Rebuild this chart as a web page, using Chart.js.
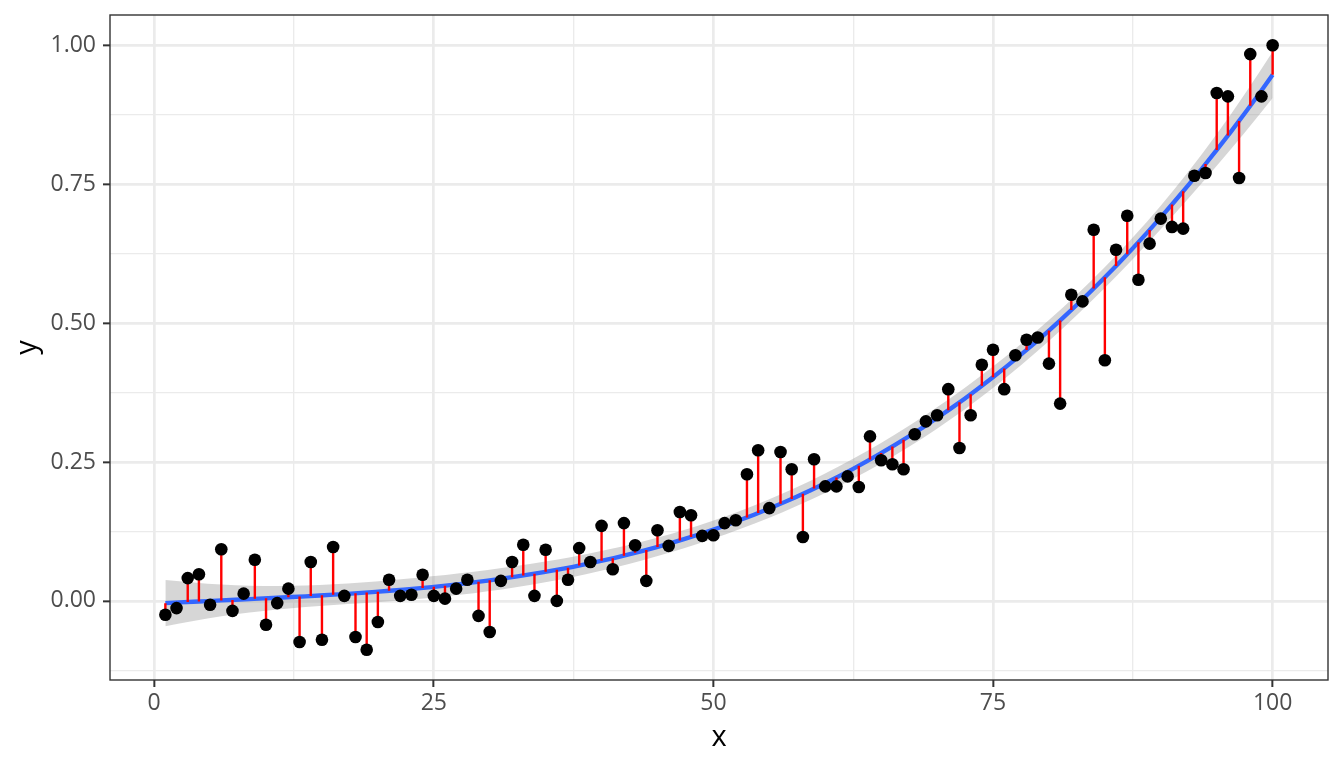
<!DOCTYPE html>
<html>
<head>
<meta charset="utf-8">
<script src="https://cdn.jsdelivr.net/npm/chart.js@4.4.1/dist/chart.umd.min.js"></script>
<style>
  html, body { margin: 0; padding: 0; background: #ffffff; }
  #wrap { width: 1344px; height: 768px; position: relative; }
</style>
</head>
<body>
<div id="wrap"><canvas id="c" width="1344" height="768"></canvas></div>
<script>
// ---------------- data ----------------
const xValues = [];
for (let i = 1; i <= 100; i++) xValues.push(i);

const yValues = [
  -0.025, -0.013, 0.041, 0.048, -0.007, 0.093, -0.018, 0.013, 0.074, -0.043,
  -0.004, 0.022, -0.074, 0.070, -0.070, 0.097, 0.009, -0.065, -0.088, -0.038,
  0.038, 0.009, 0.011, 0.047, 0.009, 0.004, 0.022, 0.038, -0.027, -0.056,
  0.036, 0.070, 0.101, 0.009, 0.092, 0.000, 0.038, 0.095, 0.070, 0.135,
  0.057, 0.140, 0.100, 0.036, 0.127, 0.099, 0.160, 0.154, 0.117, 0.118,
  0.140, 0.145, 0.228, 0.271, 0.167, 0.268, 0.237, 0.115, 0.255, 0.206,
  0.206, 0.224, 0.205, 0.296, 0.253, 0.246, 0.237, 0.300, 0.323, 0.334,
  0.381, 0.275, 0.334, 0.425, 0.452, 0.381, 0.442, 0.470, 0.474, 0.427,
  0.355, 0.551, 0.539, 0.668, 0.433, 0.632, 0.693, 0.578, 0.643, 0.688,
  0.673, 0.670, 0.765, 0.770, 0.914, 0.908, 0.761, 0.984, 0.908, 1.000
];

const xMajorTicks = [0, 25, 50, 75, 100];
const xTickLabels = ['0', '25', '50', '75', '100'];
const xMinorTicks = [12.5, 37.5, 62.5, 87.5];
const yMajorTicks = [0, 0.25, 0.5, 0.75, 1.0];
const yTickLabels = ['0.00', '0.25', '0.50', '0.75', '1.00'];
const yMinorTicks = [-0.125, 0.125, 0.375, 0.625, 0.875];
const xTitle = 'x';
const yTitle = 'y';

// ---------------- cubic linear-model smoother (y ~ poly(x, 3)) ----------------
const n = xValues.length;
const xMin = Math.min(...xValues), xMax = Math.max(...xValues);
function solve(A, b) {
  const m = A.length; const M = A.map((r, i) => r.concat([b[i]]));
  for (let c = 0; c < m; c++) {
    let p = c; for (let r = c + 1; r < m; r++) if (Math.abs(M[r][c]) > Math.abs(M[p][c])) p = r;
    [M[c], M[p]] = [M[p], M[c]];
    for (let r = 0; r < m; r++) if (r !== c) { const f = M[r][c] / M[c][c]; for (let k = c; k <= m; k++) M[r][k] -= f * M[c][k]; }
  }
  return M.map((r, i) => r[m] / r[i]);
}
function tQuant(df) {
  const z = 1.959964;
  return z + (z*z*z + z) / (4 * df) + (5*Math.pow(z,5) + 16*z*z*z + 3*z) / (96 * df * df);
}
const xMid = (xMin + xMax) / 2, xHalf = (xMax - xMin) / 2;
function basis(x) { const t = (x - xMid) / xHalf; return [1, t, t * t, t * t * t]; }
const XtX = [[0,0,0,0],[0,0,0,0],[0,0,0,0],[0,0,0,0]], Xty = [0,0,0,0];
xValues.forEach((x, i) => {
  const b = basis(x);
  for (let a = 0; a < 4; a++) { Xty[a] += b[a] * yValues[i]; for (let c = 0; c < 4; c++) XtX[a][c] += b[a] * b[c]; }
});
const coef = solve(XtX, Xty);
function predict(x) { const b = basis(x); return b.reduce((s, v, k) => s + v * coef[k], 0); }
function seFactor(x) { const b = basis(x); const v = solve(XtX, b); return Math.sqrt(b.reduce((s, bb, k) => s + bb * v[k], 0)); }
const fitted = xValues.map(predict);
const rss = yValues.reduce((s, y, i) => s + Math.pow(y - fitted[i], 2), 0);
const sigma = Math.sqrt(rss / (n - 4));
const tq = tQuant(n - 4);

const smoothLine = [], bandUpper = [], bandLower = [];
for (let i = 0; i < 80; i++) {
  const x0 = xMin + i * (xMax - xMin) / 79;
  const f = predict(x0), se = sigma * seFactor(x0);
  smoothLine.push({x: x0, y: f});
  bandUpper.push({x: x0, y: f + tq * se});
  bandLower.push({x: x0, y: f - tq * se});
}

const pointData = xValues.map((x, i) => ({x: x, y: yValues[i]}));
const segData = [];
xValues.forEach((x, i) => {
  segData.push({x: x, y: yValues[i]});
  segData.push({x: x, y: fitted[i]});
  segData.push({x: x, y: null});
});

// ---------------- chart ----------------
const xLo = xMin - 0.05 * (xMax - xMin), xHi = xMax + 0.05 * (xMax - xMin);
const yMinV = Math.min(...yValues), yMaxV = Math.max(...yValues);
const yLo = yMinV - 0.05 * (yMaxV - yMinV), yHi = yMaxV + 0.05 * (yMaxV - yMinV);

const FONT = '"Open Sans", "Noto Sans", "DejaVu Sans", sans-serif';

const frame = {
  id: 'frame',
  afterDatasetsDraw(chart) {
    const {ctx, chartArea: a} = chart;
    ctx.save();
    ctx.strokeStyle = '#333333';
    ctx.lineWidth = 1.4;
    ctx.strokeRect(a.left, a.top, a.right - a.left, a.bottom - a.top);
    ctx.restore();
  },
  afterDraw(chart) {
    const {ctx, chartArea: a} = chart;
    ctx.save();
    ctx.fillStyle = '#000000';
    ctx.font = '29px ' + FONT;
    ctx.textAlign = 'center';
    ctx.textBaseline = 'alphabetic';
    ctx.fillText(xTitle, (a.left + a.right) / 2, 746);
    ctx.translate(36, (a.top + a.bottom) / 2);
    ctx.rotate(-Math.PI / 2);
    ctx.fillText(yTitle, 0, 0);
    ctx.restore();
  }
};

function isMajor(list, v) { return list.some(m => Math.abs(m - v) < 1e-9); }

new Chart(document.getElementById('c'), {
  type: 'line',
  data: {
    datasets: [
      { data: bandUpper, borderWidth: 0, pointRadius: 0, fill: '+1', order: 10,
        backgroundColor: 'rgba(153,153,153,0.4)', borderColor: 'rgba(0,0,0,0)' },
      { data: bandLower, borderWidth: 0, pointRadius: 0, fill: false, order: 10,
        borderColor: 'rgba(0,0,0,0)' },
      { data: smoothLine, borderColor: '#3366FF', borderWidth: 4.3, pointRadius: 0, fill: false, order: 8,
        borderCapStyle: 'butt', borderJoinStyle: 'round' },
      { data: segData, borderColor: '#FF0000', borderWidth: 2.4, pointRadius: 0, fill: false, order: 5,
        spanGaps: false, borderCapStyle: 'butt' },
      { data: pointData, showLine: false, pointRadius: 6.3, pointBackgroundColor: '#000000', order: 1,
        pointBorderWidth: 0, pointBorderColor: '#000000' }
    ]
  },
  options: {
    responsive: false,
    animation: false,
    events: [],
    layout: { padding: { left: 0, right: 16, top: 15, bottom: 0 } },
    plugins: { legend: { display: false }, tooltip: { enabled: false } },
    elements: { line: { tension: 0 } },
    scales: {
      x: {
        type: 'linear', min: xLo, max: xHi,
        afterFit(s) { s.height = 88; s.paddingLeft = 0; s.paddingRight = 0; },
        afterBuildTicks(s) {
          s.ticks = xMinorTicks.concat(xMajorTicks).sort((a, b) => a - b).map(v => ({value: v}));
        },
        ticks: {
          autoSkip: false, maxRotation: 0, padding: 3, color: '#4D4D4D',
          font: { family: FONT, size: 23 },
          callback(v) { const i = xMajorTicks.findIndex(m => Math.abs(m - v) < 1e-9); return i >= 0 ? xTickLabels[i] : ''; }
        },
        grid: {
          color: '#EBEBEB',
          lineWidth: c => isMajor(xMajorTicks, c.tick.value) ? 2.7 : 1.35,
          tickColor: c => isMajor(xMajorTicks, c.tick.value) ? '#333333' : 'rgba(0,0,0,0)',
          tickWidth: 2, tickLength: 7, drawTicks: true
        },
        border: { display: false }
      },
      y: {
        type: 'linear', min: yLo, max: yHi,
        afterFit(s) { s.width = 110; s.paddingTop = 0; s.paddingBottom = 0; },
        afterBuildTicks(s) {
          s.ticks = yMinorTicks.concat(yMajorTicks).sort((a, b) => a - b).map(v => ({value: v}));
        },
        ticks: {
          autoSkip: false, padding: 7, color: '#4D4D4D',
          font: { family: FONT, size: 23 },
          callback(v) { const i = yMajorTicks.findIndex(m => Math.abs(m - v) < 1e-9); return i >= 0 ? yTickLabels[i] : ''; }
        },
        grid: {
          color: '#EBEBEB',
          lineWidth: c => isMajor(yMajorTicks, c.tick.value) ? 2.7 : 1.35,
          tickColor: c => isMajor(yMajorTicks, c.tick.value) ? '#333333' : 'rgba(0,0,0,0)',
          tickWidth: 2, tickLength: 7, drawTicks: true
        },
        border: { display: false }
      }
    }
  },
  plugins: [frame]
});
</script>
</body>
</html>
